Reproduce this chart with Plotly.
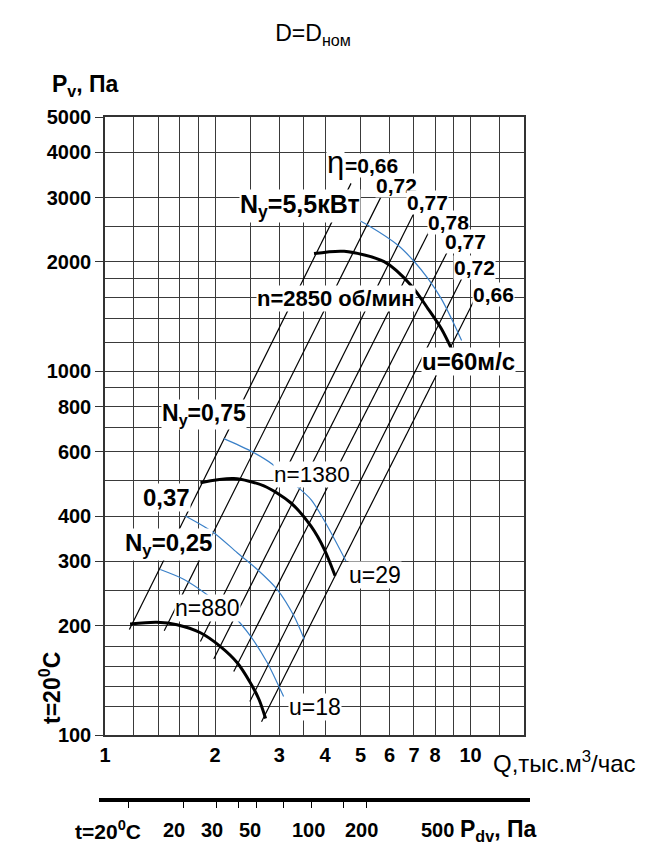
import numpy as np
import plotly.graph_objects as go

FONT = "Liberation Sans"

# ---------------- data (Q in thousand m3/h, Pv in Pa) ----------------
# pressure characteristics (thick black)
q_2850 = [3.73, 4.51, 5.80, 6.88, 7.65, 8.32, 8.87]
p_2850 = [2106, 2137, 2001, 1722, 1485, 1308, 1152]
q_1380 = [1.824, 2.25, 2.72, 3.22, 3.66, 3.98, 4.26]
p_1380 = [494, 507, 484, 435, 375, 324, 274]
q_880 = [1.171, 1.387, 1.574, 1.824, 2.07, 2.30, 2.50, 2.64, 2.75]
p_880 = [202, 204, 201, 191, 175, 158, 139, 125, 111]

# power curves (thin blue)
q_n55 = [4.56, 5.24, 6.33, 7.03, 7.65, 8.32, 8.87, 9.45]
p_n55 = [2715, 2520, 2220, 1997, 1797, 1581, 1394, 1215]
q_n075 = [2.113, 2.50, 2.87, 3.22, 3.66, 4.06, 4.56]
p_n075 = [653, 604, 555, 499, 444, 375, 301]
q_n037 = [1.659, 1.984, 2.30, 2.61, 2.96, 3.29, 3.51]
p_n037 = [400, 360, 317, 285, 251, 212, 183]
q_n025 = [1.416, 1.641, 1.903, 2.25, 2.50, 2.78, 2.96, 3.08]
p_n025 = [285, 268, 243, 212, 187, 158, 139, 127.5]

# efficiency rays (straight in log-log)
eta_labels = ["=0,66", "0,72", "0,77", "0,78", "0,77", "0,72", "0,66"]
ray_q_low = [1.166, 1.452, 1.824, 1.984, 2.25, 2.49, 2.68]
ray_p_low = [195, 193.5, 180.8, 161.7, 149.5, 123.6, 108.8]
ray_q_high = [4.71, 5.75, 7.03, 7.73, 8.68, 9.55, 10.28]
ray_p_high = [3285, 3083, 2744, 2442, 2150, 1834, 1582]
eta_label_q = [4.51, 6.28, 7.62, 8.70, 9.69, 10.26, 11.57]
eta_label_p = [3681, 3249, 2911, 2559, 2268, 1923, 1627]
eta_symbol_q, eta_symbol_p = 4.26, 3750

# axes
x_major = [1, 2, 3, 4, 5, 6, 7, 8, 10]
x_major_text = ["1", "2", "3", "4", "5", "6", "7", "8", "10"]
x_minor = [1.2, 1.4, 1.6, 1.8, 2.5, 3.5, 9, 12, 14]
y_major = [100, 200, 300, 400, 600, 800, 1000, 2000, 3000, 4000, 5000]
y_minor = [120, 136, 154, 175, 250, 500, 700, 900, 1200, 1400, 1600, 1800, 2500]

# dynamic pressure scale
pdv_at_q1 = 7.4
pdv_ticks = [10, 20, 30, 40, 50, 70, 100, 150, 200]
pdv_labels = [20, 30, 50, 100, 200, 500]
pdv_label_dx = [-10, -4, -7, -3, -5, -2]

Q_MAX = 14
GRID = "#3a3a3a"
BLUE = "#3a80c8"

# page geometry (the page body adds an 8px offset)
OFF = 8
W, H = 652, 846
L, R, T, B = 97, 136, 109, 10
PW, PH = W - L - R, H - T - B

def px(ref):
    return (ref - OFF - L) / PW

def py(ref):
    return (H - B - (ref - OFF)) / PH

fig = go.Figure()

def curve(q, p, color, width):
    fig.add_trace(go.Scatter(x=q, y=p, mode="lines",
                             line=dict(color=color, width=width, shape="spline", smoothing=0.8),
                             hoverinfo="skip", showlegend=False))

rx, ry = [], []
for a, b, c, d in zip(ray_q_low, ray_p_low, ray_q_high, ray_p_high):
    rx += [a, c, None]
    ry += [b, d, None]
fig.add_trace(go.Scatter(x=rx, y=ry, mode="lines", line=dict(color="black", width=1.2),
                         hoverinfo="skip", showlegend=False))

for q, p in [(q_n55, p_n55), (q_n075, p_n075), (q_n037, p_n037), (q_n025, p_n025)]:
    curve(q, p, BLUE, 1.2)
for q, p in [(q_2850, p_2850), (q_1380, p_1380), (q_880, p_880)]:
    curve(q, p, "black", 3)

# invisible trace to activate the Pdv axis
fig.add_trace(go.Scatter(x=pdv_ticks, y=[150] * len(pdv_ticks), xaxis="x2", mode="markers",
                         marker=dict(opacity=0), hoverinfo="skip", showlegend=False))

ann = []

def label(text, q, p, size, bold=True, anchor="center"):
    t = f"<b>{text}</b>" if bold else text
    ann.append(dict(x=np.log10(q), y=np.log10(p), xref="x", yref="y", text=t, showarrow=False,
                    xanchor=anchor, yanchor="middle",
                    font=dict(family=FONT, size=size, color="black"), bgcolor="white", borderpad=0))

for t, q, p in list(zip(eta_labels, eta_label_q, eta_label_p))[1:]:
    label(t, q, p, 21)
label("η", eta_symbol_q, eta_symbol_p, 31, bold=False)
label(eta_labels[0], eta_label_q[0], eta_label_p[0], 21, anchor="left")

label("N<sub>y</sub>=5,5кВт", 3.41, 2838, 25)
label("n=2850 об/мин", 4.28, 1582, 22)
label("u=60м/с", 9.87, 1061, 24)
label("N<sub>y</sub>=0,75", 1.87, 762, 23)
label("0,37", 1.47, 450, 24)
label("N<sub>y</sub>=0,25", 1.49, 334, 24)
label("n=1380", 3.68, 521, 22.5, bold=False)
label("n=880", 1.91, 224, 23, bold=False)
label("u=29", 5.48, 276, 23, bold=False)
label("u=18", 3.75, 119.5, 23, bold=False)

def ptext(text, x, y, size, angle=0, anchor="center"):
    ann.append(dict(x=px(x), y=py(y), xref="paper", yref="paper", showarrow=False, textangle=angle,
                    xanchor=anchor, yanchor="middle", text=text,
                    font=dict(family=FONT, size=size, color="black")))

ptext("<b>P<sub>v</sub>, Па</b>", 85, 86, 23)
ptext("<b>t=20<sup>0</sup>C</b>", 50, 688, 23, angle=-90)
ptext("Q,тыс.м<sup>3</sup>/час", 564, 762, 24)

LINE_Y = 800
LAB_Y = 830
for v, dx in zip(pdv_labels, pdv_label_dx):
    ann.append(dict(x=np.log10(v), y=py(LAB_Y), xref="x2", yref="paper", showarrow=False,
                    xanchor="center", yanchor="middle", xshift=dx,
                    text=f"<b>{v}</b>", font=dict(family=FONT, size=20, color="black")))
ptext("<b>t=20<sup>0</sup>C</b>", 108, LAB_Y, 21)
ptext("<b>P<sub>dv</sub>, Па</b>", 458, LAB_Y, 23, anchor="left")

shapes = [dict(type="line", xref="paper", yref="paper", x0=px(99), x1=px(530), y0=py(LINE_Y), y1=py(LINE_Y),
               line=dict(color="black", width=4))]

tick_font = dict(family=FONT, size=20, color="black", weight="bold")

fig.update_layout(
    width=W, height=H,
    margin=dict(l=L, r=R, t=T, b=B, autoexpand=False),
    paper_bgcolor="white", plot_bgcolor="white",
    title=dict(text="D=D<sub>ном</sub>", x=(313 - OFF) / W, xanchor="center",
               y=1 - (33 - OFF) / H, yanchor="middle",
               font=dict(family=FONT, size=23, color="black")),
    xaxis=dict(type="log", range=[0, np.log10(Q_MAX)], tickvals=x_major, ticktext=x_major_text,
               ticks="", ticklabelstandoff=1, showgrid=True, gridcolor=GRID, gridwidth=1.3,
               showline=True, linecolor="#333", linewidth=1.5, mirror=True, zeroline=False,
               fixedrange=True, automargin=False, tickfont=tick_font,
               minor=dict(tickvals=x_minor, showgrid=True, gridcolor=GRID, gridwidth=1.3, ticks="")),
    yaxis=dict(type="log", range=[2, np.log10(5000)], domain=[py(735), 1], tickvals=y_major,
               ticktext=[str(v) for v in y_major], ticks="outside", ticklen=8, tickcolor="#333",
               showgrid=True, gridcolor=GRID, gridwidth=1.3, showline=True, linecolor="#333",
               linewidth=1.5, mirror=True, zeroline=False, fixedrange=True, automargin=False,
               tickfont=tick_font,
               minor=dict(tickvals=y_minor, showgrid=True, gridcolor=GRID, gridwidth=1.3, ticks="")),
    xaxis2=dict(type="log", overlaying="x", anchor="free", position=py(LINE_Y), side="bottom",
                range=[np.log10(pdv_at_q1), np.log10(pdv_at_q1 * Q_MAX ** 2)], tickvals=pdv_ticks,
                ticktext=[" "] * len(pdv_ticks), ticks="outside", ticklen=7, tickcolor="black",
                tickwidth=1.2, showgrid=False, showline=False, zeroline=False, fixedrange=True,
                automargin=False),
    annotations=ann, shapes=shapes,
)

fig.write_html("out.html")
